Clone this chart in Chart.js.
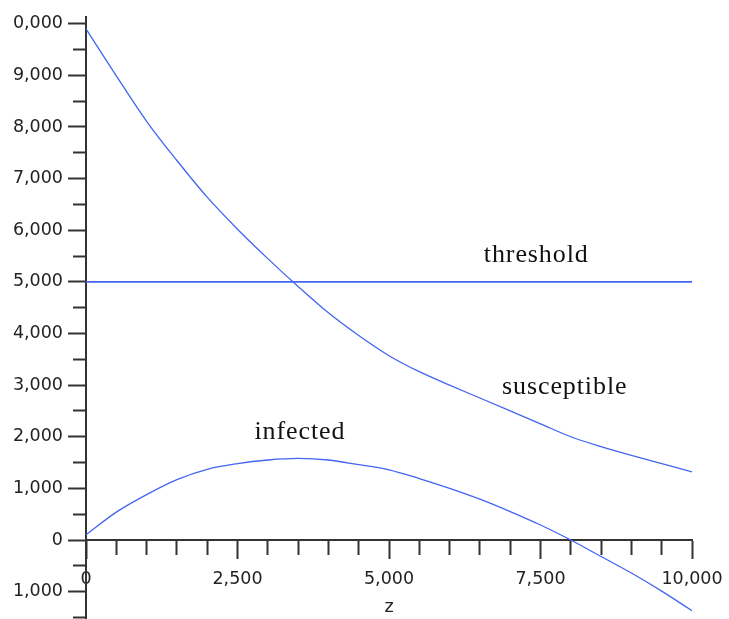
<!DOCTYPE html>
<html>
<head>
<meta charset="utf-8">
<script src="https://cdn.jsdelivr.net/npm/chart.js@4/dist/chart.umd.min.js"></script>
<style>
  html, body { margin: 0; padding: 0; background: #ffffff; }
  #wrap { width: 729px; height: 619px; }
</style>
</head>
<body>
<div id="wrap"><canvas id="c" width="729" height="619"></canvas></div>
<script>
// ---- data ----
const zValues = [0, 500, 1000, 1500, 2000, 2500, 3000, 3500, 4000, 4500, 5000,
                 5500, 6000, 6500, 7000, 7500, 8000, 8500, 9000, 9500, 10000];
const susceptible = [9900, 8990, 8110, 7350, 6640, 6020, 5450, 4910, 4400, 3960, 3570,
                     3260, 3000, 2750, 2500, 2250, 2000, 1810, 1640, 1480, 1320];
const infected = [100, 540, 880, 1170, 1370, 1480, 1550, 1580, 1550, 1460, 1360,
                  1190, 1000, 790, 550, 290, 0, -320, -640, -990, -1370];
const thresholdZ = [0, 10000];
const thresholdValues = [5000, 5000];

// curve labels (text and anchor in data coordinates)
const curveLabels = ['threshold', 'susceptible', 'infected'];
const curveLabelZ = [7430, 7900, 3530];
const curveLabelV = [5390, 2830, 1960];

// tick positions and tick labels as they appear in the picture
const xTickValues = [0, 500, 1000, 1500, 2000, 2500, 3000, 3500, 4000, 4500, 5000,
                     5500, 6000, 6500, 7000, 7500, 8000, 8500, 9000, 9500, 10000];
const yTickValues = [-1500, -1000, -500, 0, 500, 1000, 1500, 2000, 2500, 3000, 3500, 4000,
                     4500, 5000, 5500, 6000, 6500, 7000, 7500, 8000, 8500, 9000, 9500, 10000];
const xTickLabels = { 0: '0', 2500: '2,500', 5000: '5,000', 7500: '7,500', 10000: '10,000' };
const yTickLabels = { 10000: '0,000', 9000: '9,000', 8000: '8,000', 7000: '7,000', 6000: '6,000',
                      5000: '5,000', 4000: '4,000', 3000: '3,000', 2000: '2,000', 1000: '1,000',
                      0: '0', '-1000': '1,000' };

const toPoints = (xs, ys) => xs.map((x, i) => ({ x: x, y: ys[i] }));

const LINE = '#4265f2';
const AXIS = '#333333';
const TICKFONT = { family: 'DejaVu Sans', size: 17.5 };

const curveLabelPlugin = {
  id: 'curveLabels',
  afterDatasetsDraw(chart) {
    const { ctx, scales } = chart;
    ctx.save();
    ctx.font = '26px "Liberation Serif"';
    if ('letterSpacing' in ctx) ctx.letterSpacing = '0.9px';
    ctx.fillStyle = '#111111';
    ctx.textAlign = 'center';
    ctx.textBaseline = 'alphabetic';
    curveLabels.forEach((t, i) => {
      ctx.fillText(t, scales.x.getPixelForValue(curveLabelZ[i]), scales.y.getPixelForValue(curveLabelV[i]));
    });
    ctx.restore();
  }
};

new Chart(document.getElementById('c'), {
  type: 'line',
  data: {
    datasets: [
      { label: 'susceptible', data: toPoints(zValues, susceptible), borderColor: LINE, borderWidth: 1.3, pointRadius: 0, cubicInterpolationMode: 'monotone' },
      { label: 'infected', data: toPoints(zValues, infected), borderColor: LINE, borderWidth: 1.3, pointRadius: 0, cubicInterpolationMode: 'monotone' },
      { label: 'threshold', data: toPoints(thresholdZ, thresholdValues), borderColor: LINE, borderWidth: 1.8, pointRadius: 0, tension: 0 }
    ]
  },
  options: {
    responsive: false,
    animation: false,
    devicePixelRatio: 1,
    layout: { padding: { left: 0, right: 37, top: 17, bottom: 0 } },
    plugins: { legend: { display: false }, tooltip: { enabled: false } },
    scales: {
      x: {
        type: 'linear',
        position: { y: 0 },
        min: 0, max: 10000,
        border: { display: true, color: AXIS, width: 2 },
        grid: {
          drawOnChartArea: false, drawTicks: true, tickLength: 18,
          tickColor: AXIS, tickWidth: 2,
          tickBorderDash: (ctx) => (ctx.tick && ctx.tick.value % 2500 === 0) ? [] : [14, 10]
        },
        ticks: {
          autoSkip: false, maxRotation: 0,
          color: '#222', font: TICKFONT, padding: 11,
          callback: (v) => (xTickLabels[v] !== undefined ? xTickLabels[v] : '')
        },
        afterBuildTicks: (s) => { s.ticks = xTickValues.map(v => ({ value: v })); },
        title: { display: true, text: 'z', color: '#222', font: TICKFONT, padding: 0 },
        afterFit: (s) => { s.height = 78; s.paddingLeft = 0; s.paddingRight = 0; }
      },
      y: {
        type: 'linear',
        position: 'left',
        min: -1530, max: 10130,
        border: { display: true, color: AXIS, width: 2 },
        grid: {
          drawOnChartArea: false, drawTicks: true, tickLength: 18,
          tickColor: AXIS, tickWidth: 2,
          tickBorderDash: (ctx) => (ctx.tick && ctx.tick.value % 1000 === 0) ? [] : [0, 5, 20, 0]
        },
        ticks: {
          autoSkip: false,
          color: '#222', font: TICKFONT, padding: 5,
          callback: (v) => (yTickLabels[v] !== undefined ? yTickLabels[v] : '')
        },
        afterBuildTicks: (s) => { s.ticks = yTickValues.map(v => ({ value: v })); },
        afterFit: (s) => { s.width = 86; s.paddingTop = 0; s.paddingBottom = 0; }
      }
    }
  },
  plugins: [curveLabelPlugin]
});
</script>
</body>
</html>
